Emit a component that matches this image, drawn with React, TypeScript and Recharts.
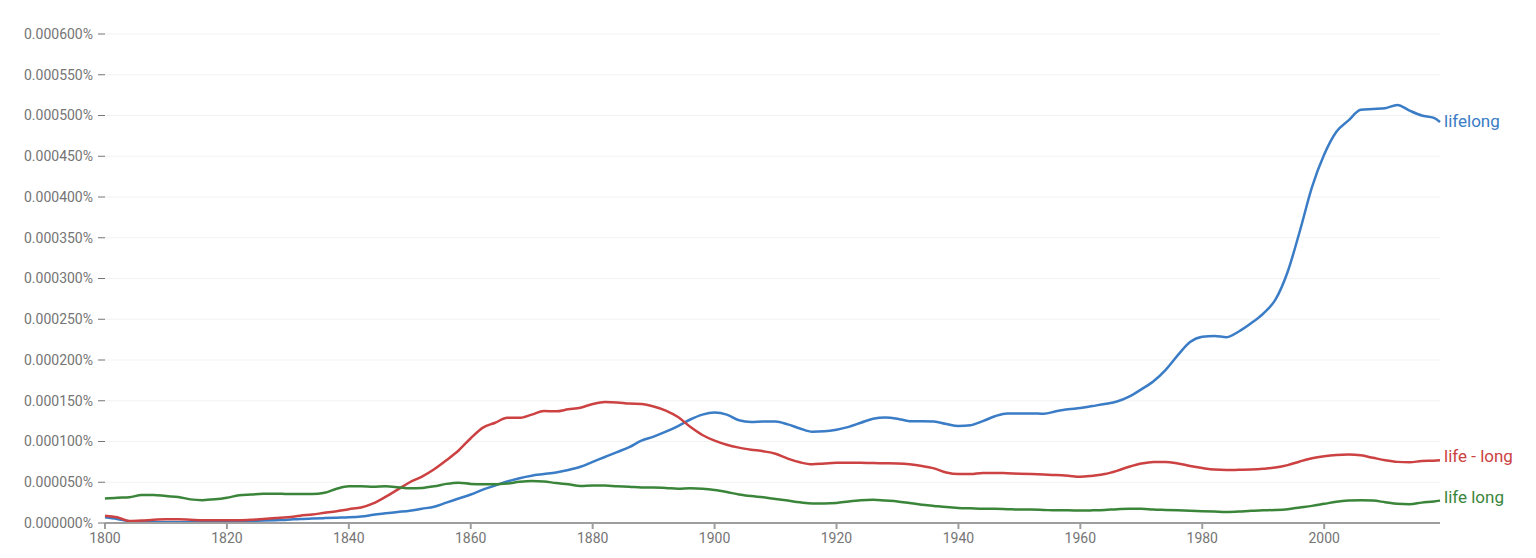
import { LineChart, Line, XAxis, YAxis, CartesianGrid } from 'recharts'

// one point every 2 years, plus 2019 at the end
const years = [
  1800, 1802, 1804, 1806, 1808, 1810, 1812, 1814, 1816, 1818,
  1820, 1822, 1824, 1826, 1828, 1830, 1832, 1834, 1836, 1838,
  1840, 1842, 1844, 1846, 1848, 1850, 1852, 1854, 1856, 1858,
  1860, 1862, 1864, 1866, 1868, 1870, 1872, 1874, 1876, 1878,
  1880, 1882, 1884, 1886, 1888, 1890, 1892, 1894, 1896, 1898,
  1900, 1902, 1904, 1906, 1908, 1910, 1912, 1914, 1916, 1918,
  1920, 1922, 1924, 1926, 1928, 1930, 1932, 1934, 1936, 1938,
  1940, 1942, 1944, 1946, 1948, 1950, 1952, 1954, 1956, 1958,
  1960, 1962, 1964, 1966, 1968, 1970, 1972, 1974, 1976, 1978,
  1980, 1982, 1984, 1986, 1988, 1990, 1992, 1994, 1996, 1998,
  2000, 2002, 2004, 2006, 2008, 2010, 2012, 2014, 2016, 2018, 2019,
]

// values in millionths of a percent (500 = 0.000500%)
const lifelong = [
  7, 5, 2, 1, 1, 1, 1, 1, 1, 1.5,
  1.5, 2, 2.5, 3, 3.5, 4, 5, 5.5, 6, 6.5,
  7, 8, 10, 12, 13.5, 15, 17.5, 20, 25, 30,
  35, 41, 46, 51, 55, 58, 60, 62, 65, 69,
  75, 81, 87, 93, 101, 106, 112, 119, 127, 133,
  135.5, 133, 126, 124, 124.5, 124.5, 121, 116, 112, 112.5,
  114.5, 118, 123, 128, 129.5, 128, 125, 125, 124.5, 121.5,
  119, 120, 125, 131, 134.5, 134.5, 134.5, 134, 137, 139.5,
  141, 143.5, 146, 149, 155, 164, 174, 188, 206, 222,
  228.5, 229.5, 228, 235, 245, 257, 274, 308, 358, 412,
  452, 480, 494, 507, 508, 509, 513, 506, 500, 497, 492,
]

const lifeDashLong = [
  9, 7, 2.5, 3, 4, 4.5, 4.5, 4, 3.5, 3.5,
  3.5, 3.5, 4, 5, 6, 7, 9, 10.5, 12.5, 14.5,
  17, 19, 24, 32, 41, 50, 57, 66, 77, 89,
  104, 117, 123, 129, 129, 133, 137.5, 137, 139.5, 141.5,
  146, 148.5, 148, 146.5, 146, 143, 138, 130, 118, 108,
  101, 96, 92.5, 90, 88, 85, 79, 74.5, 72, 73,
  74, 74, 73.8, 73.5, 73.3, 73, 72, 70, 67, 62,
  60, 60, 61.5, 61.5, 61, 60.5, 60, 59.5, 59, 58,
  56.6, 58, 60, 64, 69, 73, 75, 75, 73, 70,
  67.5, 65.5, 65, 65.3, 65.6, 66.5, 68, 71, 75.5, 79.5,
  82, 83.5, 84, 83, 80, 77, 75, 74.5, 76, 76.5, 77,
]

const lifeSpaceLong = [
  30, 31, 31.5, 34.5, 34.5, 33, 32, 29, 28, 29,
  31, 34, 35, 36, 36, 35.5, 35.5, 35.5, 37, 42,
  45, 45, 44.5, 45, 44, 42.5, 43, 45, 48, 49.5,
  48, 47.5, 47.5, 48.5, 50.5, 51.5, 51, 49, 47.5, 45.5,
  46, 46, 45, 44.5, 43.5, 43.5, 43, 42, 42.5, 42,
  40.5, 38, 35, 33, 31.5, 29.5, 27.5, 25.5, 24, 24,
  24.5, 26.5, 28, 28.5, 27.5, 26.5, 24.5, 22.5, 21, 19.5,
  18.5, 18, 17.5, 17.5, 17, 16.5, 16.5, 16, 15.5, 15.5,
  15.2, 15.5, 16, 17, 17.5, 17.5, 16.5, 16, 15.5, 15,
  14.5, 14, 13.5, 14, 15, 15.5, 16, 17, 19, 21,
  23.5, 26, 27.5, 28, 27.5, 25.5, 23.5, 23, 25, 26.5, 27.5,
]

const xTicks = [1800, 1820, 1840, 1860, 1880, 1900, 1920, 1940, 1960, 1980, 2000]
const yTicks = [0, 50, 100, 150, 200, 250, 300, 350, 400, 450, 500, 550, 600]

const series = [
  { key: 'lifelong', name: 'lifelong', color: '#3a7cc5', shift: 0 },
  { key: 'lifeDashLong', name: 'life - long', color: '#cc4141', shift: -3 },
  { key: 'lifeSpaceLong', name: 'life long', color: '#3b853b', shift: -3 },
]

const data = years.map((year, i) => ({
  year,
  lifelong: lifelong[i],
  lifeDashLong: lifeDashLong[i],
  lifeSpaceLong: lifeSpaceLong[i],
}))

const FONT = 'Roboto, "Noto Sans", sans-serif'
const last = years.length - 1

// draws the series name next to the final point instead of a dot
function endLabel(name: string, color: string, shift: number) {
  return (props: any) => {
    const { cx, cy, index } = props
    if (index !== last) return <g key={`d-${name}-${index}`} />
    return (
      <text
        key={`d-${name}-${index}`}
        x={cx + 4}
        y={cy + shift}
        dy="0.3em"
        fill={color}
        fontSize={17}
        fontFamily={FONT}
      >
        {name}
      </text>
    )
  }
}

export default function App() {
  return (
    <div style={{ position: 'absolute', left: 0, top: 0, background: '#fff' }}>
      <LineChart width={1536} height={558} data={data} margin={{ top: 34, right: 96, bottom: 5, left: 0 }}>
        <CartesianGrid vertical={false} stroke="#f2f2f2" strokeWidth={1} />
        <XAxis
          dataKey="year"
          type="number"
          domain={[1800, 2019]}
          ticks={xTicks}
          interval={0}
          height={30}
          tick={{ fill: '#757575', fontSize: 14, fontFamily: FONT }}
          tickSize={6}
          tickMargin={4}
          axisLine={{ stroke: '#9e9e9e', strokeWidth: 2 }}
          tickLine={{ stroke: '#9e9e9e', strokeWidth: 2 }}
        />
        <YAxis
          type="number"
          domain={[0, 600]}
          ticks={yTicks}
          interval={0}
          width={105}
          axisLine={false}
          tickSize={7}
          tickMargin={5}
          tickLine={{ stroke: '#757575' }}
          tick={{ fill: '#757575', fontSize: 14, fontFamily: FONT }}
          tickFormatter={(v: number) => `${(v / 1e6).toFixed(6)}%`}
        />
        {series.map((s) => (
          <Line
            key={s.key}
            dataKey={s.key}
            type="monotone"
            stroke={s.color}
            strokeWidth={2.5}
            dot={endLabel(s.name, s.color, s.shift)}
            activeDot={false}
            isAnimationActive={false}
          />
        ))}
      </LineChart>
    </div>
  )
}
